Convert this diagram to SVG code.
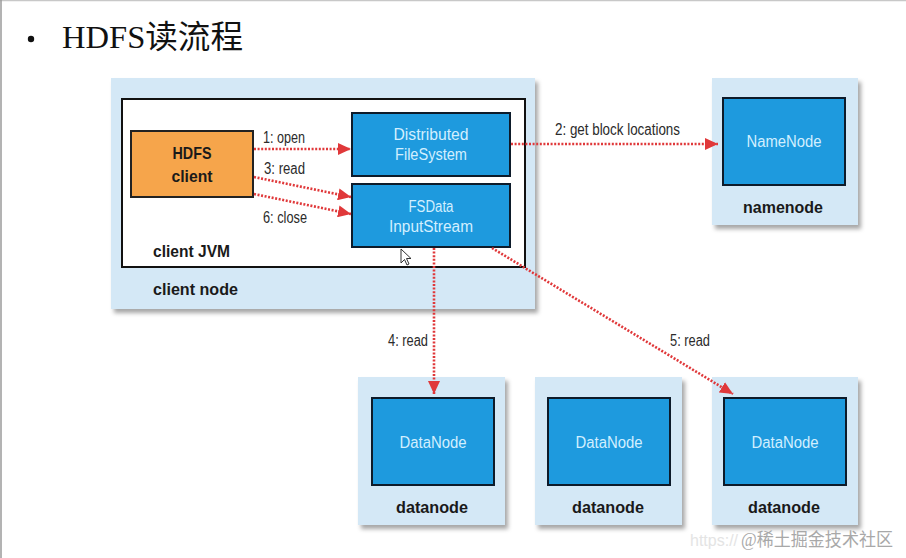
<svg xmlns="http://www.w3.org/2000/svg" width="906" height="558" viewBox="0 0 906 558">
<defs>
<style>
.lbl{font-family:"Liberation Sans",Arial,sans-serif;font-size:16px;fill:#2b2b2b}
.bold{font-family:"Liberation Sans",Arial,sans-serif;font-size:17px;font-weight:bold;fill:#1a1a1a}
.inner{font-family:"Liberation Sans",Arial,sans-serif;font-size:16px;fill:#d2efff}
.outer{fill:#d4e8f6;filter:url(#sh)}
.blue{fill:#1e9ade;stroke:#0d1b2a;stroke-width:2}
.conn{fill:none;stroke:#e0383a;stroke-width:2.6;stroke-dasharray:2 1.6;marker-end:url(#ah)}
</style>
<filter id="sh" x="-10%" y="-10%" width="130%" height="130%">
<feDropShadow dx="3" dy="4" stdDeviation="2" flood-color="#000" flood-opacity="0.35"/>
</filter>
<marker id="ah" viewBox="0 0 13 12" refX="13" refY="6" markerWidth="13" markerHeight="12" markerUnits="userSpaceOnUse" orient="auto">
<path d="M0,0 L13,6 L0,12 z" fill="#e0383a"/>
</marker>
</defs>
<rect x="0" y="0" width="906" height="558" fill="#ffffff"/>
<line x1="0" y1="0.5" x2="906" y2="0.5" stroke="#c8c8c8" stroke-width="1.5"/>
<line x1="1" y1="0" x2="1" y2="558" stroke="#9a9a9a" stroke-width="1.5"/>

<g id="title">
<circle cx="31" cy="39" r="3.2" fill="#111"/>
<text x="62" y="48" font-family="'Liberation Serif','Noto Sans CJK SC',serif" font-size="32" fill="#111" textLength="181" lengthAdjust="spacingAndGlyphs">HDFS读流程</text>
</g>

<g id="client-node">
<rect class="outer" x="111" y="78" width="424" height="231"/>
<text class="bold" x="153" y="295" textLength="85" lengthAdjust="spacingAndGlyphs">client node</text>
</g>
<g id="client-jvm">
<rect x="122" y="99" width="403" height="168" fill="#ffffff" stroke="#111" stroke-width="2"/>
<text class="bold" x="153" y="257" textLength="77" lengthAdjust="spacingAndGlyphs">client JVM</text>
</g>
<g id="hdfs-client">
<rect x="131" y="131" width="122" height="66" fill="#f6a54b" stroke="#222" stroke-width="2"/>
<text class="bold" x="192" y="159" text-anchor="middle" textLength="39" lengthAdjust="spacingAndGlyphs">HDFS</text>
<text class="bold" x="192" y="182" text-anchor="middle" textLength="41" lengthAdjust="spacingAndGlyphs">client</text>
</g>
<g id="distributed-filesystem">
<rect class="blue" x="352" y="113" width="158" height="63"/>
<text class="inner" x="431" y="140" text-anchor="middle" textLength="75" lengthAdjust="spacingAndGlyphs">Distributed</text>
<text class="inner" x="431" y="160" text-anchor="middle" textLength="72" lengthAdjust="spacingAndGlyphs">FileSystem</text>
</g>
<g id="fsdata-inputstream">
<rect class="blue" x="352" y="184" width="158" height="63"/>
<text class="inner" x="431" y="212" text-anchor="middle" textLength="45" lengthAdjust="spacingAndGlyphs">FSData</text>
<text class="inner" x="431" y="232" text-anchor="middle" textLength="84" lengthAdjust="spacingAndGlyphs">InputStream</text>
</g>

<g id="namenode">
<rect class="outer" x="712" y="78" width="146" height="147"/>
<rect class="blue" x="723" y="98" width="122" height="87"/>
<text class="inner" x="784" y="147" text-anchor="middle" textLength="75" lengthAdjust="spacingAndGlyphs">NameNode</text>
<text class="bold" x="783" y="213" text-anchor="middle" textLength="80" lengthAdjust="spacingAndGlyphs">namenode</text>
</g>

<g id="datanode-1">
<rect class="outer" x="358" y="377" width="147" height="148"/>
<rect class="blue" x="372" y="398" width="122" height="87"/>
<text class="inner" x="433" y="448" text-anchor="middle" textLength="67" lengthAdjust="spacingAndGlyphs">DataNode</text>
<text class="bold" x="432" y="513" text-anchor="middle" textLength="72" lengthAdjust="spacingAndGlyphs">datanode</text>
</g>
<g id="datanode-2">
<rect class="outer" x="535" y="377" width="147" height="148"/>
<rect class="blue" x="548" y="398" width="122" height="87"/>
<text class="inner" x="609" y="448" text-anchor="middle" textLength="67" lengthAdjust="spacingAndGlyphs">DataNode</text>
<text class="bold" x="608" y="513" text-anchor="middle" textLength="72" lengthAdjust="spacingAndGlyphs">datanode</text>
</g>
<g id="datanode-3">
<rect class="outer" x="712" y="377" width="146" height="148"/>
<rect class="blue" x="724" y="398" width="122" height="87"/>
<text class="inner" x="785" y="448" text-anchor="middle" textLength="67" lengthAdjust="spacingAndGlyphs">DataNode</text>
<text class="bold" x="784" y="513" text-anchor="middle" textLength="72" lengthAdjust="spacingAndGlyphs">datanode</text>
</g>

<g id="connectors">
<line class="conn" x1="254" y1="149" x2="351" y2="149"/>
<line class="conn" x1="254" y1="177" x2="351" y2="197"/>
<line class="conn" x1="254" y1="194" x2="351" y2="214"/>
<line class="conn" x1="511" y1="144" x2="718" y2="144"/>
<line class="conn" x1="434" y1="248" x2="434" y2="394"/>
<line class="conn" x1="492" y1="248" x2="733" y2="394"/>
<text class="lbl" x="263" y="143" textLength="42" lengthAdjust="spacingAndGlyphs">1: open</text>
<text class="lbl" x="264" y="174" textLength="41" lengthAdjust="spacingAndGlyphs">3: read</text>
<text class="lbl" x="263" y="223" textLength="44" lengthAdjust="spacingAndGlyphs">6: close</text>
<text class="lbl" x="555" y="135" textLength="125" lengthAdjust="spacingAndGlyphs">2: get block locations</text>
<text class="lbl" x="388" y="346" textLength="40" lengthAdjust="spacingAndGlyphs">4: read</text>
<text class="lbl" x="670" y="346" textLength="40" lengthAdjust="spacingAndGlyphs">5: read</text>
</g>

<path d="M401,249 L401,263 L404.5,259.5 L407,265 L409,264 L406.5,258.5 L411,258.5 Z" fill="#ffffff" stroke="#333" stroke-width="1"/>

<g id="watermark">
<text x="690" y="546" font-family="'Liberation Sans',sans-serif" font-size="16" fill="#e4e4e4">https://</text>
<text x="741" y="546" font-family="'Liberation Serif','Noto Sans CJK SC',serif" font-size="18" fill="#a8a8a8" textLength="152" lengthAdjust="spacingAndGlyphs">@稀土掘金技术社区</text>
</g>
</svg>
